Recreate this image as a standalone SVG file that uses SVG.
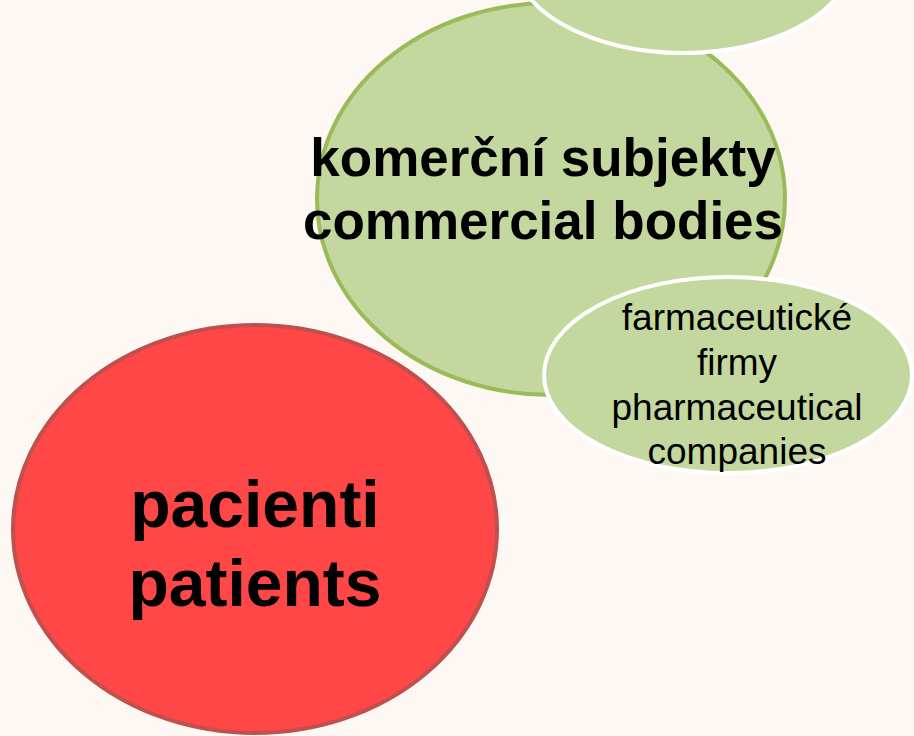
<svg xmlns="http://www.w3.org/2000/svg" width="914" height="736" viewBox="0 0 914 736">
<style>
.g{fill:#C4D79F}
.big{font-family:"Liberation Sans",Arial,sans-serif;font-weight:bold;text-anchor:middle;fill:#000}
.sm{font-family:"Liberation Sans",Arial,sans-serif;text-anchor:middle;fill:#000;font-size:37px}
</style>
<rect width="914" height="736" fill="#FEF8F4"/>
<g id="commercial">
<ellipse class="g" cx="551" cy="199" rx="234" ry="196" stroke="#9BBB59" stroke-width="4"/>
<text class="big" font-size="53" x="543" y="176">komerční subjekty</text>
<text class="big" font-size="53" x="543" y="239">commercial bodies</text>
</g>
<g id="top">
<ellipse class="g" cx="683" cy="-44" rx="170" ry="97" stroke="#FFFFFF" stroke-width="4"/>
</g>
<g id="pharma">
<ellipse class="g" cx="728" cy="375" rx="184" ry="98" stroke="#FFFFFF" stroke-width="4"/>
<text class="sm" x="737" y="330">farmaceutické</text>
<text class="sm" x="737" y="375">firmy</text>
<text class="sm" x="737" y="420">pharmaceutical</text>
<text class="sm" x="737" y="464">companies</text>
</g>
<g id="patients">
<ellipse cx="255" cy="529" rx="242" ry="204" fill="#FF4747" stroke="#C0504D" stroke-width="4"/>
<text class="big" font-size="66" x="255" y="527">pacienti</text>
<text class="big" font-size="66" x="255" y="606">patients</text>
</g>
<g id="connectors"/>
</svg>
